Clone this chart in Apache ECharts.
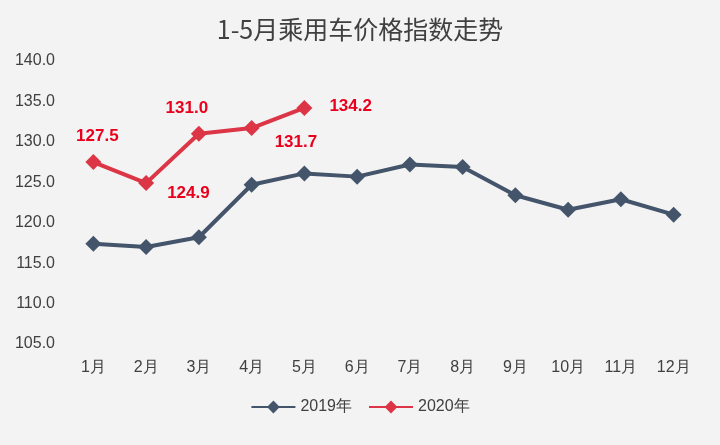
<!DOCTYPE html><html><head><meta charset="utf-8"><script src="https://cdn.jsdelivr.net/npm/echarts@6/dist/echarts.min.js"></script></head><body style="margin:0"><div id="c" style="width:720px;height:445px;background:#f3f3f4"></div><script>
const categories=['1月','2月','3月','4月','5月','6月','7月','8月','9月','10月','11月','12月'];
const s2019=[117.4,117.0,118.2,124.7,126.1,125.7,127.2,126.9,123.4,121.6,122.9,121.0];
const s2020=[127.5,124.9,131.0,131.7,134.2];
const labelPos=[['top',[4,-4]],['right',[8,10]],['top',[-12,-4]],['right',[10,14]],['right',[12,-2]]];
const chart=echarts.init(document.getElementById('c'));
chart.setOption({
 title:{text:'1-5月乘用车价格指数走势',left:'center',top:12,textStyle:{fontSize:25,fontWeight:'normal',color:'#404040',fontFamily:'Noto Sans CJK SC'}},
 grid:{left:67,right:20,top:61,bottom:101},
 legend:{bottom:25,itemWidth:44,itemHeight:16,itemGap:16,textStyle:{fontSize:16,color:'#404040'},data:['2019年','2020年']},
 xAxis:{type:'category',data:categories,axisLine:{show:false},axisTick:{show:false},axisLabel:{fontSize:16,color:'#404040',margin:16}},
 yAxis:{type:'value',min:105,max:140,interval:5,splitLine:{show:false},axisLabel:{fontSize:16,color:'#404040',formatter:v=>v.toFixed(1),margin:12}},
 series:[
  {name:'2019年',type:'line',data:s2019,symbol:'diamond',symbolSize:16,lineStyle:{width:4,color:'#44546a'},itemStyle:{color:'#44546a'}},
  {name:'2020年',type:'line',data:s2020.map((v,i)=>({value:v,label:{show:true,position:labelPos[i][0],offset:labelPos[i][1]}})),symbol:'diamond',symbolSize:16,lineStyle:{width:4,color:'#dc3545'},itemStyle:{color:'#dc3545'},label:{show:true,color:'#e8001c',fontSize:17,fontWeight:'bold',formatter:p=>p.value.toFixed(1)}}
 ]
});
</script></body></html>
